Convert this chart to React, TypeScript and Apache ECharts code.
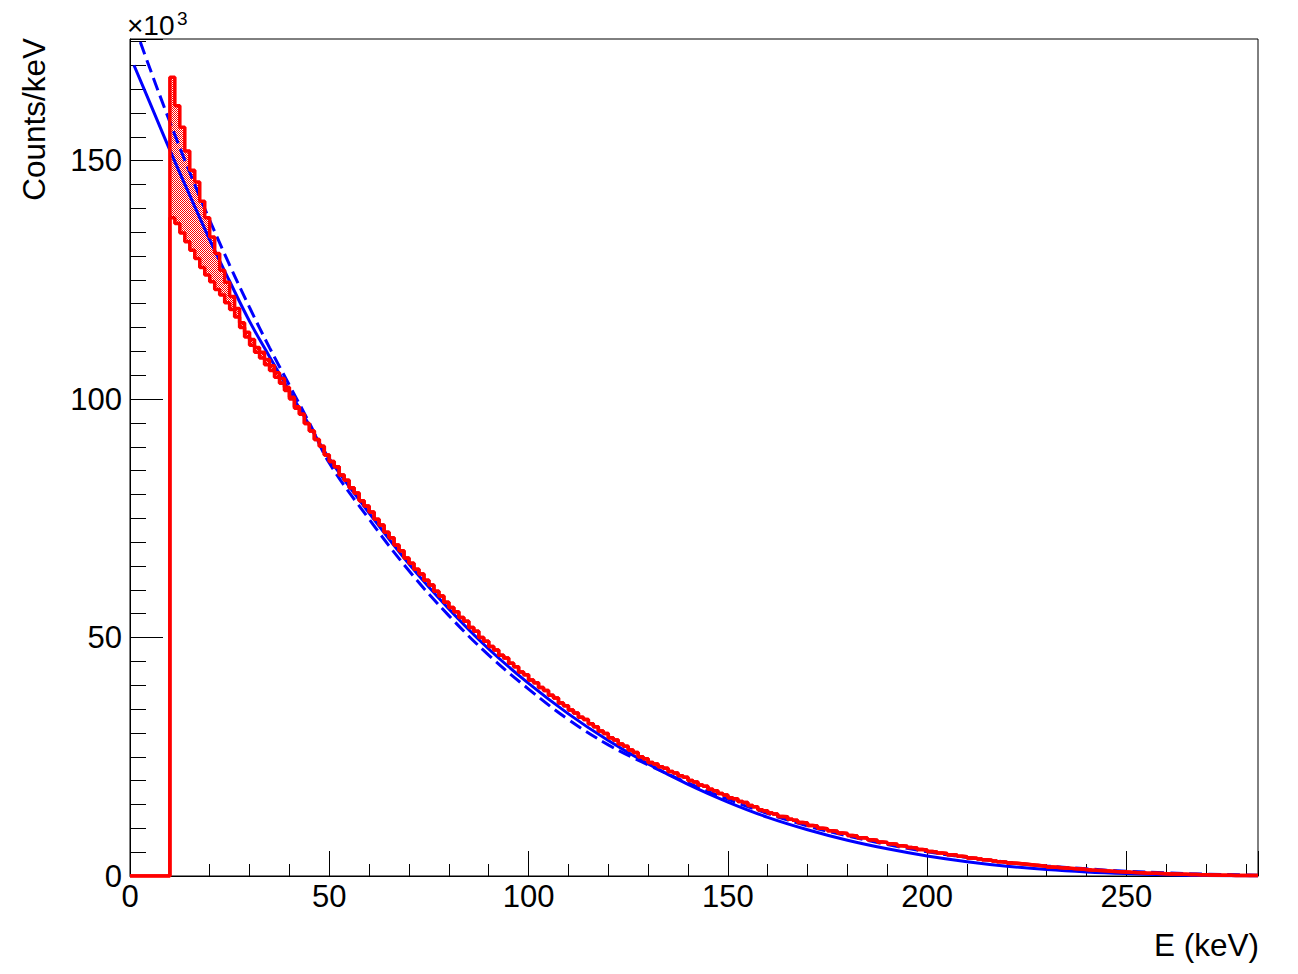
import { useEffect, useRef } from "react";
import * as echarts from "echarts";

const FONT = '"Liberation Sans", Arial, Helvetica, sans-serif';

const X_MAX = 283;
const Y_MAX = 175.5; // in units of 10^3
const BIN_START = 10;
const BIN_WIDTH = 1.25;

// Upper red histogram, counts/keV (x10^3), bins of 1.25 keV starting at 10 keV
const countsUpper = [
  167.5, 161.5, 157.0, 152.0, 148.0, 145.5, 141.5, 138.0,
  134.0, 130.5, 127.0, 124.5, 121.5, 119.0, 116.0, 114.0,
  112.5, 110.8, 109.8, 108.3, 107.0, 105.5, 104.3, 102.5,
  100.4, 98.4, 96.8, 94.9, 93.3, 91.5, 90.1, 88.3,
  86.9, 85.8, 84.1, 83.0, 81.4, 80.3, 78.7, 77.6,
  76.3, 74.8, 73.6, 72.1, 70.9, 69.4, 68.2, 66.7,
  65.6, 64.3, 63.3, 62.0, 61.0, 59.7, 58.7, 57.4,
  56.3, 55.4, 54.2, 53.4, 52.1, 51.3, 50.0, 49.2,
  48.1, 47.4, 46.3, 45.7, 44.6, 43.9, 42.8, 42.2,
  41.1, 40.5, 39.5, 38.9, 37.9, 37.3, 36.3, 35.7,
  34.8, 34.2, 33.3, 32.8, 31.9, 31.3, 30.4, 29.9,
  29.0, 28.5, 27.7, 27.2, 26.4, 25.9, 25.0, 24.6,
  23.8, 23.5, 22.9, 22.6, 21.9, 21.6, 21.0, 20.7,
  20.0, 19.7, 19.1, 18.8, 18.2, 17.9, 17.3, 17.0,
  16.4, 16.2, 15.6, 15.4, 14.8, 14.5, 13.9, 13.7,
  13.2, 13.0, 12.5, 12.4, 11.9, 11.7, 11.2, 11.1,
  10.6, 10.5, 10.0, 9.9, 9.5, 9.4, 9.0, 8.9,
  8.5, 8.4, 8.0, 7.95, 7.6, 7.5, 7.15, 7.05,
  6.75, 6.65, 6.35, 6.25, 5.95, 5.85, 5.55, 5.45,
  5.15, 5.05, 4.8, 4.72, 4.48, 4.38, 4.15, 4.05,
  3.8, 3.7, 3.55, 3.4, 3.3, 3.15, 3.0, 2.9,
  2.75, 2.65, 2.55, 2.45, 2.35, 2.25, 2.15, 2.05,
  1.9, 1.85, 1.75, 1.7, 1.6, 1.5, 1.45, 1.35,
  1.27, 1.2, 1.15, 1.08, 1.02, 0.95, 0.9, 0.84,
  0.78, 0.73, 0.69, 0.64, 0.6, 0.56, 0.52, 0.48,
  0.44, 0.41, 0.38, 0.35, 0.32, 0.3, 0.27, 0.25,
  0.22, 0.2, 0.18, 0.16, 0.15, 0.13, 0.12, 0.1,
  0.09, 0.08,
];

// Lower red histogram, first bins (where it differs from the upper one)
const countsLowerStart = [
  138.0, 136.8, 134.8, 133.0, 131.2, 129.5, 127.6, 126.0,
  124.6, 123.0, 121.8, 120.2, 118.8, 117.2, 115.0, 113.0,
  111.3, 109.8, 108.6, 107.2, 106.0, 104.6, 103.3, 101.8,
  100.0, 98.1,
];

// Fitted curves (blue), sampled energies in keV
const fitEnergy = [1, 5, 10, 15, 20, 25, 30, 35, 40, 45, 50, 60, 70, 80, 90, 100, 110, 120, 130, 140, 150, 160, 170, 180, 190, 200, 210, 220, 230, 240, 250, 260, 270, 280, 283];
const fitSolid = [170.0, 162.1, 152.2, 142.7, 133.4, 124.7, 116.3, 108.9, 101.7, 94.5, 87.5, 76.1, 65.4, 56.0, 47.6, 40.4, 34.0, 28.4, 23.5, 19.2, 15.5, 12.3, 9.7, 7.5, 5.7, 4.2, 3.0, 2.05, 1.35, 0.85, 0.5, 0.25, 0.1, 0.03, 0.02];
const fitDashed = [178.6, 169.3, 158.1, 147.5, 137.5, 128.1, 119.2, 110.8, 102.9, 95.0, 86.6, 74.8, 64.0, 54.6, 46.3, 39.2, 32.8, 27.5, 23.3, 19.5, 16.1, 13.1, 10.5, 8.4, 6.6, 5.1, 3.9, 2.9, 2.1, 1.5, 1.0, 0.65, 0.4, 0.22, 0.18];

const xMajorStep = 50;
const xMinorStep = 10;
const yMajorStep = 50;
const yMinorStep = 5;

const countsLower = countsLowerStart.concat(countsUpper.slice(countsLowerStart.length));

function histPoints(values: number[]) {
  const pts: number[][] = [[0, 0]];
  values.forEach((v, i) => pts.push([BIN_START + i * BIN_WIDTH, v]));
  pts.push([X_MAX, 0]);
  return pts;
}

function hatchPolygon() {
  const n = countsLowerStart.length;
  const pts: number[][] = [];
  for (let i = 0; i < n; i++) {
    const x0 = BIN_START + i * BIN_WIDTH;
    const x1 = x0 + BIN_WIDTH;
    pts.push([x0, countsUpper[i]], [x1, countsUpper[i]]);
  }
  for (let i = n - 1; i >= 0; i--) {
    const x0 = BIN_START + i * BIN_WIDTH;
    const x1 = x0 + BIN_WIDTH;
    pts.push([x1, countsLower[i]], [x0, countsLower[i]]);
  }
  return pts;
}

export default function App() {
  const ref = useRef<HTMLDivElement>(null);
  useEffect(() => {
    const el = ref.current!;
    const chart = echarts.init(el, null, { renderer: "svg" });

    const canvas = document.createElement("canvas");
    canvas.width = 2;
    canvas.height = 2;
    const ctx = canvas.getContext("2d")!;
    ctx.fillStyle = "#ff0000";
    ctx.fillRect(0, 0, 1, 1);
    ctx.fillRect(1, 1, 1, 1);
    const pattern: any = { image: canvas, repeat: "repeat", imageWidth: 2, imageHeight: 2 };

    const poly = hatchPolygon();
    const fmt = (step: number) => (v: number) => (Math.abs(v / step - Math.round(v / step)) < 1e-6 ? String(Math.round(v)) : "");

    const option: any = {
      animation: false,
      backgroundColor: "#fff",
      grid: { left: 130, right: 40, top: 39, bottom: 98, show: true, borderColor: "#000", borderWidth: 1, backgroundColor: "transparent" },
      xAxis: [
        {
          type: "value", min: 0, max: X_MAX, interval: xMajorStep, position: "bottom",
          axisLine: { show: true, lineStyle: { color: "#000", width: 1 } },
          axisTick: { show: true, inside: true, length: 25, lineStyle: { color: "#000", width: 1 } },
          axisLabel: { show: true, formatter: fmt(xMajorStep), color: "#000", fontSize: 31, fontFamily: FONT, margin: 5 },
          splitLine: { show: false },
        },
        {
          type: "value", min: 0, max: X_MAX, interval: xMinorStep, position: "bottom",
          axisLine: { show: false },
          axisTick: { show: true, inside: true, length: 12, lineStyle: { color: "#000", width: 1 } },
          axisLabel: { show: false },
          splitLine: { show: false },
        },
      ],
      yAxis: [
        {
          type: "value", min: 0, max: Y_MAX, interval: yMajorStep, position: "left",
          axisLine: { show: true, lineStyle: { color: "#000", width: 1 } },
          axisTick: { show: true, inside: true, length: 33, lineStyle: { color: "#000", width: 1 } },
          axisLabel: { show: true, formatter: fmt(yMajorStep), color: "#000", fontSize: 31, fontFamily: FONT, margin: 8 },
          splitLine: { show: false },
        },
        {
          type: "value", min: 0, max: Y_MAX, interval: yMinorStep, position: "left",
          axisLine: { show: false },
          axisTick: { show: true, inside: true, length: 16, lineStyle: { color: "#000", width: 1 } },
          axisLabel: { show: false },
          splitLine: { show: false },
        },
      ],
      series: [
        {
          type: "custom", name: "band", xAxisIndex: 0, yAxisIndex: 0, clip: true,
          data: [[BIN_START, countsUpper[0]]],
          renderItem: (_p: any, api: any) => ({
            type: "polygon",
            shape: { points: poly.map((p) => api.coord(p)) },
            style: { fill: pattern, stroke: null },
          }),
          silent: true,
        },
        {
          type: "line", name: "fit", xAxisIndex: 0, yAxisIndex: 0, symbol: "none", smooth: 0.4,
          data: fitEnergy.map((e, i) => [e, fitSolid[i]]),
          lineStyle: { color: "#0000ff", width: 3 },
        },
        {
          type: "line", name: "fit2", xAxisIndex: 0, yAxisIndex: 0, symbol: "none", smooth: 0.4,
          data: fitEnergy.map((e, i) => [e, fitDashed[i]]),
          lineStyle: { color: "#0000ff", width: 3, type: [13, 6] },
        },
        {
          type: "line", name: "low", xAxisIndex: 0, yAxisIndex: 0, symbol: "none", step: "end",
          data: histPoints(countsLower),
          lineStyle: { color: "#ff0000", width: 3.5 },
        },
        {
          type: "line", name: "high", xAxisIndex: 0, yAxisIndex: 0, symbol: "none", step: "end",
          data: histPoints(countsUpper),
          lineStyle: { color: "#ff0000", width: 3.5 },
        },
      ],
      graphic: [
        {
          type: "text", x: 34, y: 38, rotation: Math.PI / 2,
          style: { text: "Counts/keV", font: `31.5px ${FONT}`, fill: "#000", align: "right", textAlign: "right", verticalAlign: "middle", textVerticalAlign: "middle" },
        },
        {
          type: "text", x: 1259, y: 945,
          style: { text: "E (keV)", font: `31.5px ${FONT}`, fill: "#000", align: "right", textAlign: "right", verticalAlign: "middle", textVerticalAlign: "middle" },
        },
        {
          type: "text", x: 127, y: 25,
          style: { text: "×10", font: `28px ${FONT}`, fill: "#000", align: "left", textAlign: "left", verticalAlign: "middle", textVerticalAlign: "middle" },
        },
        {
          type: "text", x: 177, y: 18,
          style: { text: "3", font: `19px ${FONT}`, fill: "#000", align: "left", textAlign: "left", verticalAlign: "middle", textVerticalAlign: "middle" },
        },
      ],
    };
    chart.setOption(option);
    return () => chart.dispose();
  }, []);
  return <div ref={ref} style={{ position: "absolute", left: 0, top: 0, width: 1298, height: 974, background: "#fff" }} />;
}
